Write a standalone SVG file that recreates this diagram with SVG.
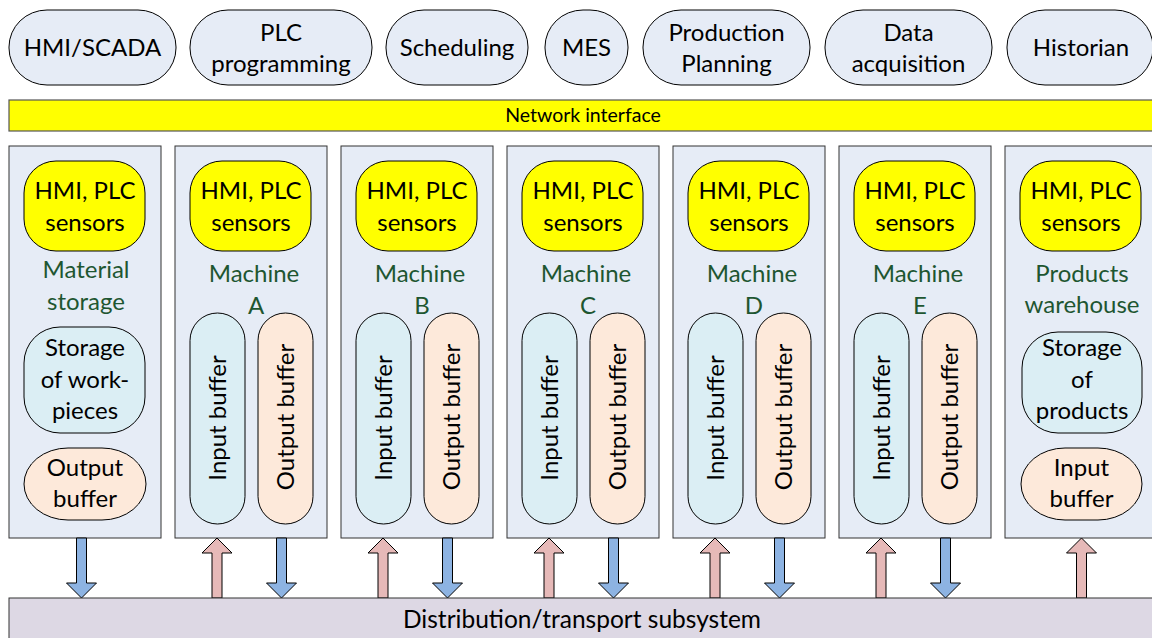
<svg xmlns="http://www.w3.org/2000/svg" width="1152" height="638" viewBox="0 0 1152 638">
<defs>
<style>
text{font-family:"Lato","Liberation Sans",sans-serif;fill:#000;text-anchor:middle}
.top{fill:#e6ecf6;stroke:#000;stroke-width:1}
.t24{font-size:24px}
.col{fill:#e6ecf6;stroke:#333;stroke-width:1}
.hmi{fill:#ffff00;stroke:#000;stroke-width:1}
.sto{fill:#dbeef4;stroke:#000;stroke-width:1}
.out{fill:#fde9da;stroke:#000;stroke-width:1}
.lbl{fill:#1e5631;font-size:24px}
.up{fill:#e6b9b8;stroke:#000;stroke-width:1}
.dn{fill:#8db3e2;stroke:#000;stroke-width:1}
</style>
<path id="uparr" d="M0,0 L15,15 L5,15 L5,60 L-5,60 L-5,15 L-15,15 Z"/>
<path id="dnarr" d="M0,60 L15,45 L5,45 L5,0 L-5,0 L-5,45 L-15,45 Z"/>
</defs>

<g id="top-nodes">
<g id="hmi-scada"><rect class="top" x="9" y="10" width="167" height="75" rx="38" ry="37"/><text class="t24" x="92.5" y="56">HMI/SCADA</text></g>
<g id="plc-programming"><rect class="top" x="190" y="10" width="182" height="75" rx="38" ry="37"/><text class="t24" x="281" y="41">PLC</text><text class="t24" x="281" y="72">programming</text></g>
<g id="scheduling"><rect class="top" x="386" y="10" width="142" height="75" rx="38" ry="37"/><text class="t24" x="457" y="56">Scheduling</text></g>
<g id="mes"><rect class="top" x="545" y="10" width="83" height="75" rx="38" ry="37"/><text class="t24" x="586.5" y="56">MES</text></g>
<g id="production-planning"><rect class="top" x="643" y="10" width="167" height="75" rx="38" ry="37"/><text class="t24" x="726.5" y="41">Production</text><text class="t24" x="726.5" y="72">Planning</text></g>
<g id="data-acquisition"><rect class="top" x="825" y="10" width="167" height="75" rx="38" ry="37"/><text class="t24" x="908.5" y="41">Data</text><text class="t24" x="908.5" y="72">acquisition</text></g>
<g id="historian"><rect class="top" x="1007" y="10" width="146" height="75" rx="38" ry="37"/><text class="t24" x="1081" y="56">Historian</text></g>
</g>

<g id="network-interface"><rect x="9" y="100" width="1150" height="31" fill="#ffff00" stroke="#555" stroke-width="1.2"/><text x="583" y="122" font-size="19.5">Network interface</text></g>

<g id="material-storage">
<rect class="col" x="9" y="146" width="152" height="392"/>
<rect class="hmi" x="24" y="161" width="121" height="90" rx="32"/>
<text class="t24" x="85" y="199">HMI, PLC</text><text class="t24" x="85" y="231">sensors</text>
<text class="lbl" x="86" y="278">Material</text><text class="lbl" x="86" y="310">storage</text>
<rect class="sto" x="24" y="327" width="121" height="106" rx="36"/>
<text class="t24" x="85" y="356">Storage</text><text class="t24" x="85" y="388">of work-</text><text class="t24" x="85" y="419">pieces</text>
<rect class="out" x="24" y="448" width="122" height="72" rx="44" ry="36"/>
<text class="t24" x="85" y="476">Output</text><text class="t24" x="85" y="507">buffer</text>
</g>

<g id="machine-a">
<rect class="col" x="175" y="146" width="152" height="392"/>
<rect class="hmi" x="190" y="161" width="121" height="90" rx="32"/>
<text class="t24" x="251" y="199">HMI, PLC</text><text class="t24" x="251" y="231">sensors</text>
<text class="lbl" x="254" y="282">Machine</text><text class="lbl" x="256" y="314">A</text>
<rect class="sto" x="190" y="313" width="55" height="211" rx="27.5"/>
<text class="t24" transform="translate(226,418) rotate(-90)">Input buffer</text>
<rect class="out" x="258" y="313" width="55" height="211" rx="27.5"/>
<text class="t24" transform="translate(294,417) rotate(-90)">Output buffer</text>
</g>

<g id="machine-b">
<rect class="col" x="341" y="146" width="152" height="392"/>
<rect class="hmi" x="356" y="161" width="121" height="90" rx="32"/>
<text class="t24" x="417" y="199">HMI, PLC</text><text class="t24" x="417" y="231">sensors</text>
<text class="lbl" x="420" y="282">Machine</text><text class="lbl" x="422" y="314">B</text>
<rect class="sto" x="356" y="313" width="55" height="211" rx="27.5"/>
<text class="t24" transform="translate(392,418) rotate(-90)">Input buffer</text>
<rect class="out" x="424" y="313" width="55" height="211" rx="27.5"/>
<text class="t24" transform="translate(460,417) rotate(-90)">Output buffer</text>
</g>

<g id="machine-c">
<rect class="col" x="507" y="146" width="152" height="392"/>
<rect class="hmi" x="522" y="161" width="121" height="90" rx="32"/>
<text class="t24" x="583" y="199">HMI, PLC</text><text class="t24" x="583" y="231">sensors</text>
<text class="lbl" x="586" y="282">Machine</text><text class="lbl" x="588" y="314">C</text>
<rect class="sto" x="522" y="313" width="55" height="211" rx="27.5"/>
<text class="t24" transform="translate(558,418) rotate(-90)">Input buffer</text>
<rect class="out" x="590" y="313" width="55" height="211" rx="27.5"/>
<text class="t24" transform="translate(626,417) rotate(-90)">Output buffer</text>
</g>

<g id="machine-d">
<rect class="col" x="673" y="146" width="152" height="392"/>
<rect class="hmi" x="688" y="161" width="121" height="90" rx="32"/>
<text class="t24" x="749" y="199">HMI, PLC</text><text class="t24" x="749" y="231">sensors</text>
<text class="lbl" x="752" y="282">Machine</text><text class="lbl" x="754" y="314">D</text>
<rect class="sto" x="688" y="313" width="55" height="211" rx="27.5"/>
<text class="t24" transform="translate(724,418) rotate(-90)">Input buffer</text>
<rect class="out" x="756" y="313" width="55" height="211" rx="27.5"/>
<text class="t24" transform="translate(792,417) rotate(-90)">Output buffer</text>
</g>

<g id="machine-e">
<rect class="col" x="839" y="146" width="152" height="392"/>
<rect class="hmi" x="854" y="161" width="121" height="90" rx="32"/>
<text class="t24" x="915" y="199">HMI, PLC</text><text class="t24" x="915" y="231">sensors</text>
<text class="lbl" x="918" y="282">Machine</text><text class="lbl" x="920" y="314">E</text>
<rect class="sto" x="854" y="313" width="55" height="211" rx="27.5"/>
<text class="t24" transform="translate(890,418) rotate(-90)">Input buffer</text>
<rect class="out" x="922" y="313" width="55" height="211" rx="27.5"/>
<text class="t24" transform="translate(958,417) rotate(-90)">Output buffer</text>
</g>

<g id="products-warehouse">
<rect class="col" x="1005" y="146" width="160" height="392"/>
<rect class="hmi" x="1020" y="161" width="121" height="90" rx="32"/>
<text class="t24" x="1081" y="199">HMI, PLC</text><text class="t24" x="1081" y="231">sensors</text>
<text class="lbl" x="1082" y="282">Products</text><text class="lbl" x="1082" y="313">warehouse</text>
<rect class="sto" x="1022" y="332" width="120" height="101" rx="36"/>
<text class="t24" x="1082" y="356">Storage</text><text class="t24" x="1082" y="388">of</text><text class="t24" x="1082" y="419">products</text>
<rect class="out" x="1021" y="448" width="121" height="72" rx="44" ry="36"/>
<text class="t24" x="1081.5" y="476">Input</text><text class="t24" x="1081.5" y="507">buffer</text>
</g>

<g id="connectors">
<use href="#dnarr" class="dn" x="81.5" y="538"/>
<use href="#uparr" class="up" x="217" y="538"/>
<use href="#dnarr" class="dn" x="281.5" y="538"/>
<use href="#uparr" class="up" x="383" y="538"/>
<use href="#dnarr" class="dn" x="447.5" y="538"/>
<use href="#uparr" class="up" x="549" y="538"/>
<use href="#dnarr" class="dn" x="613.5" y="538"/>
<use href="#uparr" class="up" x="715" y="538"/>
<use href="#dnarr" class="dn" x="779.5" y="538"/>
<use href="#uparr" class="up" x="881" y="538"/>
<use href="#dnarr" class="dn" x="945.5" y="538"/>
<use href="#uparr" class="up" x="1081.5" y="538"/>
</g>

<g id="distribution-transport"><rect x="9" y="598" width="1150" height="50" fill="#ddd8e4" stroke="#333" stroke-width="1"/><text x="582" y="628" font-size="24.5">Distribution/transport subsystem</text></g>
</svg>
